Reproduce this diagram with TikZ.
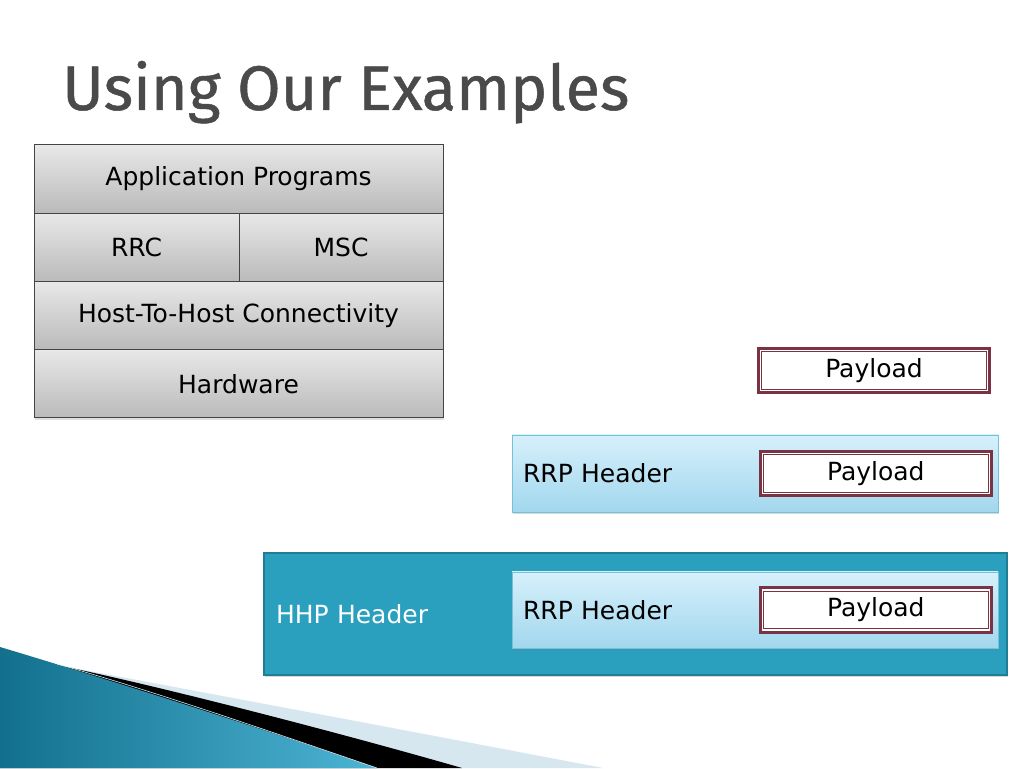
\documentclass[tikz,border=0pt]{standalone}
\usepackage{fontspec}
\setmainfont{DejaVu Sans}
\newfontfamily\titlefam[FakeBold=0.8]{Fira Sans}
\usetikzlibrary{positioning}
\usetikzlibrary{shadows}
\definecolor{titlegray}{HTML}{4A4A4A}
\definecolor{laytop}{HTML}{E8E8E8}
\definecolor{laybot}{HTML}{BABABA}
\definecolor{layline}{HTML}{444444}
\definecolor{payline}{HTML}{7A3343}
\definecolor{rrptop}{HTML}{D6F0FB}
\definecolor{rrpbot}{HTML}{A2D7EE}
\definecolor{rrpline}{HTML}{74C2DA}
\definecolor{hhpfill}{HTML}{2A9FBE}
\definecolor{hhpline}{HTML}{1F7D95}
\definecolor{swdark}{HTML}{12708D}
\definecolor{swlight}{HTML}{4DB4D4}
\definecolor{swpale}{HTML}{D6E7F0}
\newcommand{\boxfont}{\fontsize{25}{30}\selectfont}
\newcommand{\titlefont}{\titlefam\fontsize{63}{72}\selectfont}
\tikzset{layer/.style = {draw=layline, line width=0.8pt, top color=laytop, bottom color=laybot,
                         minimum height=68.25pt, inner sep=0, outer sep=0, font=\boxfont,
                         drop shadow={opacity=0.25, shadow xshift=0.5pt, shadow yshift=-2.5pt}}}
\tikzset{payload/.style = {draw=payline, line width=2.8pt, fill=white, inner sep=0, outer sep=0,
                           minimum width=231.2pt, minimum height=44.2pt, font=\boxfont,
                           path picture={\draw [payline, line width=0.9pt]
                             ([shift={(3.2pt,-3.2pt)}]path picture bounding box.north west) rectangle
                             ([shift={(-3.2pt,3.2pt)}]path picture bounding box.south east);}}}
\tikzset{rrp/.style = {draw=rrpline, line width=0.8pt, top color=rrptop, bottom color=rrpbot,
                       minimum height=77pt, text width=464pt, inner xsep=11pt, align=left, font=\boxfont,
                       drop shadow={opacity=0.3, shadow xshift=1pt, shadow yshift=-2pt}}}
\tikzset{hhp/.style = {draw=hhpline, line width=2pt, fill=hhpfill, text=white,
                       minimum height=122pt, text width=719pt, inner xsep=12pt, align=left, font=\boxfont,
                       drop shadow={opacity=0.3, shadow xshift=1pt, shadow yshift=-2pt}}}

\begin{document}
\begin{tikzpicture}[x=1pt, y=1pt]
  \useasboundingbox [fill=white] (0,0) rectangle (1024,768);
  \fill [swpale] (57,103) .. controls (180,80) and (420,35) .. (603,0) -- (0,0) -- cycle;
  \fill [black] (57,103) .. controls (150,84) and (330,38) .. (462,0) -- (0,0) -- cycle;
  \shade [left color=swdark, right color=swlight] (0,121) .. controls (120,85) and (260,40) .. (377,0) -- (0,0) -- cycle;
  \draw [swpale, line width=0.6pt] (57,104) .. controls (150,78) and (260,40) .. (377,0);

  \node [anchor=base west, inner sep=0, text=titlegray, font=\titlefont] (title) at (62,658) {Using Our Examples};

  \node [layer, minimum width=409pt] (app) at (238.5,589) {Application Programs};
  \node [layer, minimum width=205pt, below=0pt of app.south west, anchor=north west] (rrc) {RRC};
  \node [layer, minimum width=204pt, right=0pt of rrc] (msc) {MSC};
  \node [layer, minimum width=409pt, below=0pt of rrc.south west, anchor=north west] (h2h) {Host-To-Host Connectivity};
  \node [layer, minimum width=409pt, below=0pt of h2h] (hw) {Hardware};

  \node [payload] (paya) at (874,397.5) {Payload};

  \node [rrp, minimum width=486pt] (rrpa) at (755,294.5) {RRP Header};
  \node [payload, left=7pt of rrpa.east] (payb) {Payload};

  \node [hhp, minimum width=743pt] (hhp) at (635.5,154) {HHP Header};
  \node [rrp, minimum width=486pt, minimum height=76pt] (rrpb) at (755,158) {RRP Header};
  \node [payload, left=7pt of rrpb.east] (payc) {Payload};
\end{tikzpicture}
\end{document}
